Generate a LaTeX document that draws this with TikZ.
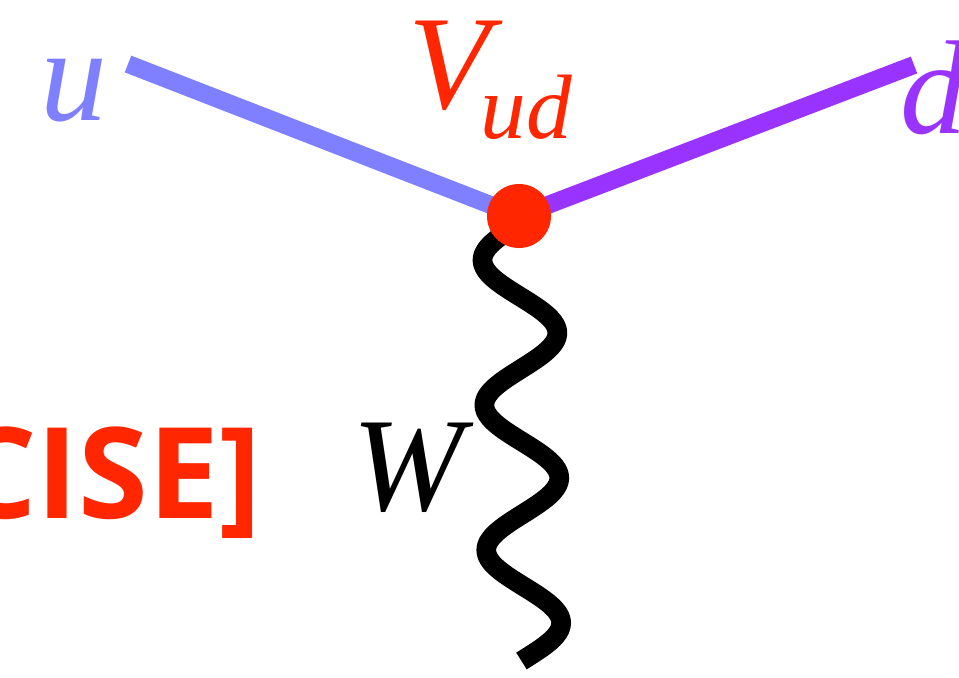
\documentclass[tikz,border=0pt]{standalone}
\usepackage{fontspec}
\setmainfont{Liberation Serif}
\newfontfamily\notesans{Open Sans}

\definecolor{upurple}{RGB}{127,128,255}
\definecolor{dpurple}{RGB}{153,51,255}
\definecolor{ckmred}{RGB}{255,38,0}

\begin{document}
\begin{tikzpicture}[
  x=0.01cm, y=-0.01cm,
  quark/.style={line width=5.1pt, line cap=butt},
  boson/.style={line width=5.6pt, line cap=butt, line join=round},
  vertexdot/.style={circle, fill=ckmred, inner sep=0pt, minimum size=0.64cm},
  lbl/.style={inner sep=0pt, font=\fontsize{38}{40}\selectfont\itshape},
  sublbl/.style={inner sep=0pt, font=\fontsize{26}{28}\selectfont\itshape},
  tag/.style={inner sep=0pt, text=ckmred, font=\fontsize{36}{38}\selectfont\notesans\bfseries}
]
  \useasboundingbox (0,0) rectangle (959,678);
  \clip (0,0) rectangle (959,678);

  % vertex and leg ends
  \coordinate (vtx) at (519,216);
  \coordinate (uend) at (128,64);
  \coordinate (dend) at (914,65);

  \draw[quark, upurple] (uend) -- (vtx);
  \draw[quark, dpurple] (vtx) -- (dend);
  % W propagator, three periods down to the free end
  \draw[boson] plot[domain=216:661, samples=140, smooth, variable=\t]
    ({519+0.013*(\t-224)-37*sin(2.4828*(\t-224))}, \t) coordinate (wend);
  \node[vertexdot] (vdot) at (vtx) {};

  % labels
  \node[lbl, text=upurple, anchor=base west] (ulabel) at (40,120) {u};
  \node[lbl, text=ckmred, anchor=base west] (vlabel) at (408,108) {V};
  \node[sublbl, text=ckmred, anchor=base west] (vsub) at (480,138) {ud};
  \node[lbl, text=dpurple, anchor=base west] (dlabel) at (900,133) {d};
  \node[lbl, anchor=base west] (wlabel) at (352,510) {W};

  \node[tag, anchor=base east] (exlabel) at (262,518) {CISE]};
\end{tikzpicture}
\end{document}
